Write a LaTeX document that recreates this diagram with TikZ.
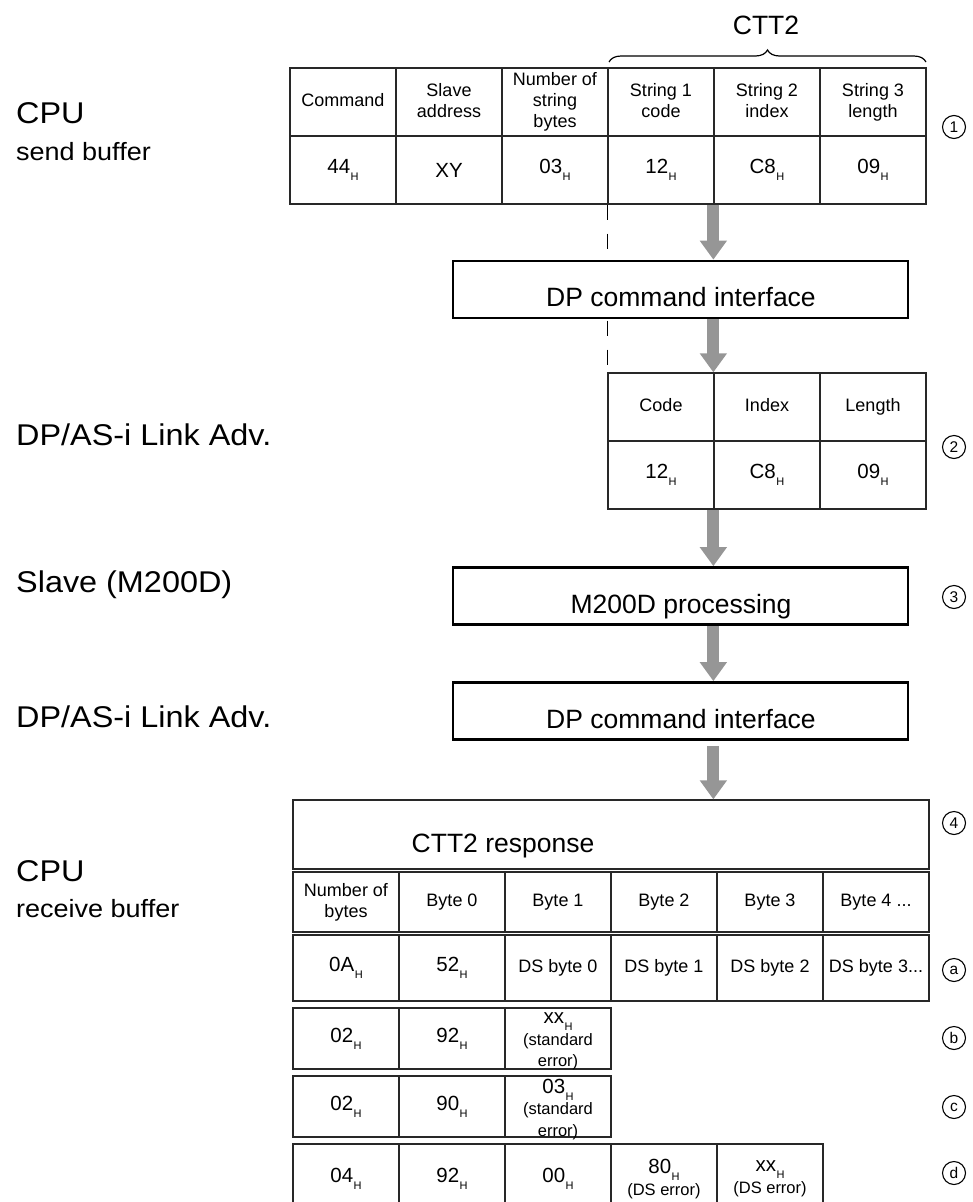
\documentclass[tikz,border=0pt]{standalone}
\usepackage{fontspec}
\setmainfont{Liberation Sans}
\newfontfamily\widefont[FakeStretch=1.08]{Liberation Sans}
\usetikzlibrary{arrows.meta,decorations.pathreplacing}
\definecolor{arrowgray}{RGB}{150,150,150}
\definecolor{linegray}{RGB}{40,40,40}
\newcommand\hx[1]{#1\kern0.5pt\raisebox{-7pt}{\fontsize{11}{11}\selectfont H}}
\newcommand\hdrf{\fontsize{18}{21}\selectfont}
\newcommand\valf{\fontsize{20.5}{22}\selectfont}
\newcommand\bigf{\fontsize{26.5}{28}\selectfont}
\newcommand\smf{\fontsize{16.5}{21.5}\selectfont}
\begin{document}
\begin{tikzpicture}[x=1pt,y=-1pt,
  tcell/.style={draw=linegray, line width=1.3pt, inner sep=0pt, align=center, minimum width=106pt},
  hcell/.style={tcell, font=\hdrf, execute at begin node={\vphantom{Ag}}},
  vcell/.style={tcell, font=\valf},
  celltext/.style={inner sep=0pt, align=center, font=\smf},
  bigbox/.style={draw=black, line width=2.7pt, fill=white, minimum width=455pt, minimum height=57pt, inner sep=0pt},
  bigtext/.style={font=\bigf, anchor=base, inner sep=0pt},
  lbl/.style={anchor=base west, inner sep=0pt, font=\widefont\fontsize{30}{30}\selectfont},
  sublbl/.style={anchor=base west, inner sep=0pt, font=\widefont\fontsize{25}{25}\selectfont},
  flow/.style={draw=arrowgray, line width=12pt, -{Triangle[width=26pt,length=19pt]}},
  marker/.style={circle, draw=black, line width=1.1pt, inner sep=0pt, minimum size=23pt, font=\fontsize{15.5}{15.5}\selectfont},
  dashline/.style={draw=black, line width=1.2pt, dash pattern=on 15pt off 14pt}
]
\useasboundingbox (0,0) rectangle (973,1202);

% left labels
\node[lbl] (lcpu1) at (16,123) {CPU};
\node[sublbl] (lsend) at (16,160) {send buffer};
\node[lbl] (llink1) at (16,445) {DP/AS-i Link Adv.};
\node[lbl] (lslave) at (16,592) {Slave (M200D)};
\node[lbl] (llink2) at (16,727) {DP/AS-i Link Adv.};
\node[lbl] (lcpu2) at (16,881) {CPU};
\node[sublbl] (lrecv) at (16,917) {receive buffer};

% top table
\node[hcell, minimum height=68pt] (t1a) at (343,102) {Command};
\node[hcell, minimum height=68pt] (t1b) at (449,102) {Slave\\address};
\node[hcell, minimum height=68pt] (t1c) at (555,102) {Number of\\string\\bytes};
\node[hcell, minimum height=68pt] (t1d) at (661,102) {String 1\\code};
\node[hcell, minimum height=68pt] (t1e) at (767,102) {String 2\\index};
\node[hcell, minimum height=68pt] (t1f) at (873,102) {String 3\\length};
\node[vcell, minimum height=68pt] (v1a) at (343,170) {\hx{44}};
\node[vcell, minimum height=68pt] (v1b) at (449,170) {XY};
\node[vcell, minimum height=68pt] (v1c) at (555,170) {\hx{03}};
\node[vcell, minimum height=68pt] (v1d) at (661,170) {\hx{12}};
\node[vcell, minimum height=68pt] (v1e) at (767,170) {\hx{C8}};
\node[vcell, minimum height=68pt] (v1f) at (873,170) {\hx{09}};

\coordinate (br1) at (609,62);
\coordinate (br2) at (926,62);
\draw[decorate, decoration={brace, amplitude=12pt}, line width=1.2pt] (br1) -- (br2);
\node[font=\bigf] (ctt) at (766,25) {CTT2};
\node[marker] (m1) at (954,127) {1};

% table 2
\node[hcell, minimum height=68pt] (t2a) at (661,407) {Code};
\node[hcell, minimum height=68pt] (t2b) at (767,407) {Index};
\node[hcell, minimum height=68pt] (t2c) at (873,407) {Length};
\node[vcell, minimum height=68pt] (v2a) at (661,475) {\hx{12}};
\node[vcell, minimum height=68pt] (v2b) at (767,475) {\hx{C8}};
\node[vcell, minimum height=68pt] (v2c) at (873,475) {\hx{09}};
\node[marker] (m2) at (954,447) {2};

% dashed guide
\draw[dashline] (v1d.south west) -- (t2a.north west);

% boxes
\node[bigbox] (dp1) at (680.5,289.5) {};
\node[bigtext] (dp1t) at (681,306) {DP command interface};
\node[bigbox] (m200) at (680.5,596) {};
\node[bigtext] (m200t) at (681,613) {M200D processing};
\node[marker] (m3) at (954,597) {3};
\node[bigbox] (dp2) at (680.5,711) {};
\node[bigtext] (dp2t) at (681,728) {DP command interface};

% response
\node[tcell, minimum width=636pt, minimum height=69pt] (resp) at (611,834.5) {};
\node[bigtext] (respt) at (503,852) {CTT2 response};
\node[marker] (m4) at (954,823) {4};

% header row
\node[hcell, minimum height=60pt] (h0) at (346,902) {Number of\\bytes};
\node[hcell, minimum height=60pt] (h1) at (452,902) {Byte 0};
\node[hcell, minimum height=60pt] (h2) at (558,902) {Byte 1};
\node[hcell, minimum height=60pt] (h3) at (664,902) {Byte 2};
\node[hcell, minimum height=60pt] (h4) at (770,902) {Byte 3};
\node[hcell, minimum height=60pt] (h5) at (876,902) {Byte 4 ...};

% row a
\node[vcell, minimum height=66pt] (a0) at (346,968) {\hx{0A}};
\node[vcell, minimum height=66pt] (a1) at (452,968) {\hx{52}};
\node[hcell, minimum height=66pt] (a2) at (558,968) {DS byte 0};
\node[hcell, minimum height=66pt] (a3) at (664,968) {DS byte 1};
\node[hcell, minimum height=66pt] (a4) at (770,968) {DS byte 2};
\node[hcell, minimum height=66pt] (a5) at (876,968) {DS byte 3...};
\node[marker] (ma) at (954,970) {a};

% row b
\node[vcell, minimum height=61pt] (b0) at (346,1038.5) {\hx{02}};
\node[vcell, minimum height=61pt] (b1) at (452,1038.5) {\hx{92}};
\node[tcell, minimum height=61pt] (b2) at (558,1038.5) {};
\node[celltext] (b2t) at (558,1041.5) {{\valf\hx{xx}}\\(standard\\error)};
\node[marker] (mb) at (954,1038) {b};

% row c
\node[vcell, minimum height=61pt] (c0) at (346,1106.5) {\hx{02}};
\node[vcell, minimum height=61pt] (c1) at (452,1106.5) {\hx{90}};
\node[tcell, minimum height=61pt] (c2) at (558,1106.5) {};
\node[celltext] (c2t) at (558,1109.5) {{\valf\hx{03}}\\(standard\\error)};
\node[marker] (mc) at (954,1107) {c};

% row d
\node[vcell, minimum height=70pt] (d0) at (346,1179) {\hx{04}};
\node[vcell, minimum height=70pt] (d1) at (452,1179) {\hx{92}};
\node[vcell, minimum height=70pt] (d2) at (558,1179) {\hx{00}};
\node[tcell, minimum height=70pt, font=\smf] (d3) at (664,1179) {{\valf\hx{80}}\\(DS error)};
\node[tcell, minimum height=70pt, font=\smf] (d4) at (770,1179) {{\valf\hx{xx}}\\(DS error)};
\node[marker] (md) at (954,1173) {d};

% flow arrows
\draw[flow] (v1e.south west) -- (dp1.north -| v1e.south west);
\draw[flow] (dp1.south -| t2b.north west) -- (t2b.north west);
\draw[flow] (v2b.south west) -- (m200.north -| v2b.south west);
\draw[flow] (m200.south -| v2b.south west) -- (dp2.north -| v2b.south west);
\draw[flow] ([yshift=-5pt]dp2.south -| v2b.south west) -- (resp.north -| v2b.south west);
\end{tikzpicture}
\end{document}
